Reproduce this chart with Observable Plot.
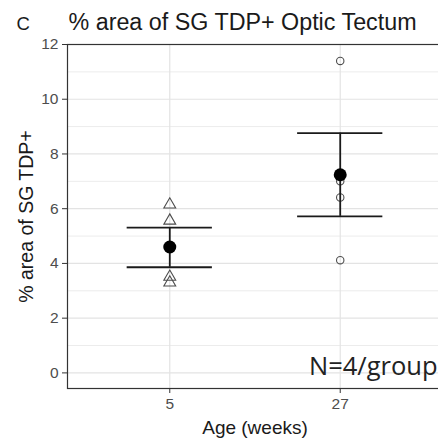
<!DOCTYPE html>
<html>
<head>
<meta charset="utf-8">
<script src="https://cdn.jsdelivr.net/npm/d3@7"></script>
<script src="https://cdn.jsdelivr.net/npm/@observablehq/plot@0.6"></script>
<style>
  html, body { margin: 0; padding: 0; background: #fff; }
</style>
</head>
<body>
<div id="chart"></div>
<script>
// ---- data ----
const ages = ["5", "27"];                    // Age (weeks) categories
const weeks5 = [6.15, 5.56, 3.51, 3.30];     // individual values, 5 weeks
const weeks27 = [11.4, 7.0, 6.41, 4.12];     // individual values, 27 weeks
const means = [4.6, 7.24];
const lower = [3.86, 5.72];
const upper = [5.31, 8.76];
const yTicks = [0, 2, 4, 6, 8, 10, 12];
const yMinor = [1, 3, 5, 7, 9, 11];
const title = "% area of SG TDP+ Optic Tectum";
const panelTag = "C";
const yLabel = "% area of SG TDP+";
const xLabel = "Age (weeks)";
const note = "N=4/group";

// ---- tables built from the arrays ----
const pts5 = weeks5.map(v => ({i: 1, v}));
const pts27 = weeks27.map(v => ({i: 2, v}));
const stats = ages.map((a, k) => ({i: k + 1, mean: means[k], lo: lower[k], hi: upper[k]}));
const xPos = ages.map((a, k) => k + 1);

const font = "'Liberation Sans', Arial, sans-serif";

const chart = Plot.plot({
  width: 438,
  height: 439,
  marginTop: 44,
  marginBottom: 51,
  marginLeft: 67,
  marginRight: -4,
  style: {fontFamily: font, fontSize: "15px", background: "#fff"},
  x: {type: "linear", domain: [0.4, 2.6], label: null},
  y: {domain: [-0.57, 12], label: null},
  marks: [
    Plot.gridY(yMinor, {stroke: "#ececec", strokeOpacity: 1, strokeWidth: 1}),
    Plot.gridY(yTicks, {stroke: "#e3e3e3", strokeOpacity: 1, strokeWidth: 1.2}),
    Plot.gridX(xPos, {stroke: "#e3e3e3", strokeOpacity: 1, strokeWidth: 1.2}),
    Plot.frame({stroke: "#333", strokeWidth: 1.2}),
    Plot.axisY({ticks: yTicks, tickSize: 5, tickFormat: () => "", stroke: "#333", label: null}),
    Plot.axisX({ticks: xPos, tickSize: 5, tickFormat: () => "", stroke: "#333", label: null}),
    Plot.text(yTicks, {y: d => d, frameAnchor: "left", dx: -9, textAnchor: "end", lineAnchor: "middle", text: d => String(d), fontSize: 15.5, fill: "#4d4d4d"}),
    Plot.text(xPos, {x: d => d, frameAnchor: "bottom", dy: 9, textAnchor: "middle", lineAnchor: "top", text: d => ages[d - 1], fontSize: 15.5, fill: "#4d4d4d"}),
    Plot.dot(pts5, {x: "i", y: "v", symbol: "triangle", r: 4.4, fill: "none", stroke: "#4d4d4d", strokeWidth: 1.1}),
    Plot.dot(pts27, {x: "i", y: "v", symbol: "circle", r: 3.7, fill: "none", stroke: "#4d4d4d", strokeWidth: 1.1}),
    Plot.ruleX(stats, {x: "i", y1: "lo", y2: "hi", stroke: "#1a1a1a", strokeWidth: 1.8}),
    Plot.ruleY(stats, {y: "hi", x1: d => d.i - 0.25, x2: d => d.i + 0.25, stroke: "#1a1a1a", strokeWidth: 1.8}),
    Plot.ruleY(stats, {y: "lo", x1: d => d.i - 0.25, x2: d => d.i + 0.25, stroke: "#1a1a1a", strokeWidth: 1.8}),
    Plot.dot(stats, {x: "i", y: "mean", r: 6.5, fill: "#000", stroke: "none"}),
    Plot.text([note], {frameAnchor: "bottom-right", dx: -5, dy: -14, lineAnchor: "bottom", textAnchor: "end", fontFamily: "'Open Sans', sans-serif", fontSize: 25.5, fill: "#222"}),
    Plot.text([title], {frameAnchor: "top-left", dx: 1, dy: -15, lineAnchor: "bottom", textAnchor: "start", fontSize: 23.3, fill: "#1a1a1a"}),
    Plot.text([panelTag], {frameAnchor: "top-left", dx: -51, dy: -15, lineAnchor: "bottom", textAnchor: "start", fontSize: 18.5, fill: "#1a1a1a"}),
    Plot.text([yLabel], {frameAnchor: "left", dx: -35, rotate: -90, lineAnchor: "bottom", textAnchor: "middle", fontSize: 19.5, fill: "#1a1a1a"}),
    Plot.text([xLabel], {frameAnchor: "bottom", dy: 45, lineAnchor: "bottom", textAnchor: "middle", fontSize: 19, fill: "#1a1a1a"})
  ]
});
document.getElementById("chart").appendChild(chart);
</script>
</body>
</html>
